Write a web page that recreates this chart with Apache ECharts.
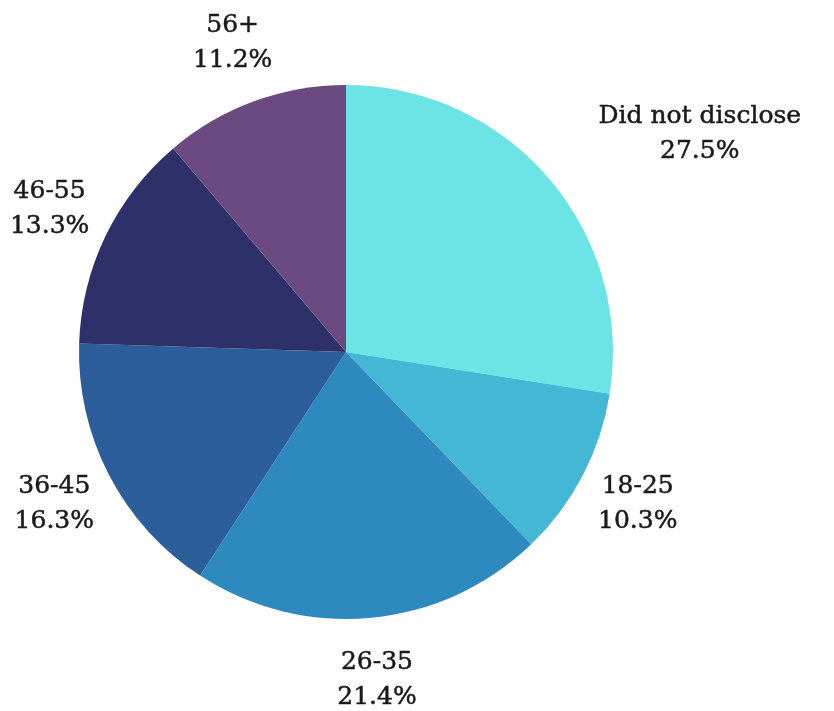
<!DOCTYPE html>
<html><head><meta charset="utf-8">
<script src="https://cdn.jsdelivr.net/npm/echarts@6/dist/echarts.min.js"></script>
<style>html,body{margin:0;padding:0;background:#fff}#c{width:834px;height:711px}</style>
</head><body><div id="c"></div>
<script>
var categories = ['Did not disclose', '18-25', '26-35', '36-45', '46-55', '56+'];
var values = [27.5, 10.3, 21.4, 16.3, 13.3, 11.2];
var colors = ['#6ce4e6', '#44b7d5', '#2e89bf', '#2b5e9a', '#2e3069', '#6a4a80'];

var CX = 346, CY = 352, R = 267, LD = 329;
var total = values.reduce(function(a,b){return a+b;}, 0);
function midAngle(i){
  var s = 0; for (var k=0;k<i;k++) s += values[k];
  return (s + values[i]/2) / total * 2 * Math.PI;
}
var chart = echarts.init(document.getElementById('c'));
chart.setOption({
  animation: false,
  series: [{
    type: 'pie',
    center: [CX, CY],
    radius: [0, R],
    startAngle: 90,
    clockwise: true,
    data: categories.map(function(c,i){ return {name:c, value:values[i], itemStyle:{color:colors[i]}}; }),
    label: {
      show: true, position: 'outside', overflow: 'none', alignTo: 'none',
      formatter: function(p){ return p.name + '\n' + p.value.toFixed(1) + '%'; },
      fontFamily: 'DejaVu Serif', fontSize: 25, lineHeight: 35, color: '#1a1a1a',
      textBorderColor: '#1a1a1a', textBorderWidth: 0.5
    },
    labelLine: { show: false },
    labelLayout: function(p){
      var a = midAngle(p.dataIndex);
      var dx = Math.sin(a), dy = -Math.cos(a);
      var ax = CX + dx*LD, ay = CY + dy*LD;
      var w = p.labelRect.width, h = p.labelRect.height;
      var x = ax;
      var nx = Math.max(x - w/2, Math.min(CX, x + w/2));
      var ny = Math.max(ay - h/2, Math.min(CY, ay + h/2));
      if (Math.hypot(nx-CX, ny-CY) < R + 10) {
        x = dx > 0 ? ax + w/2 + 2 : ax - w/2 - 2;
        ay = ay + 4*Math.sign(dy);
      }
      return { x: x, y: ay, align: 'center', verticalAlign: 'middle' };
    }
  }]
});
</script></body></html>
